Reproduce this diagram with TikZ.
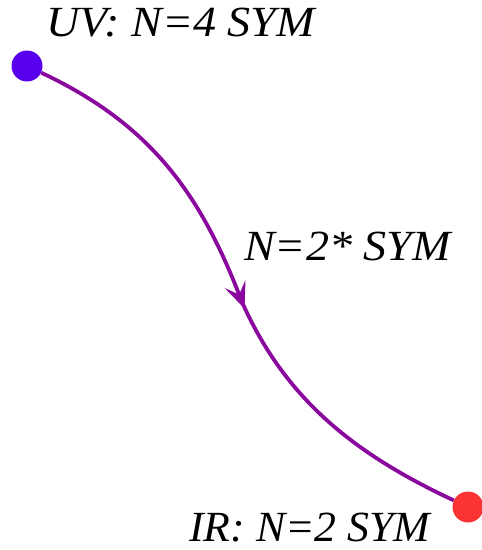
\documentclass[tikz,border=0pt]{standalone}
\usepackage{fontspec}
\setmainfont{Liberation Serif}
\usetikzlibrary{arrows.meta,positioning}

\definecolor{flowpurple}{RGB}{138,8,158}
\definecolor{uvblue}{RGB}{88,0,238}
\definecolor{irred}{RGB}{250,52,52}

\begin{document}
\begin{tikzpicture}[
    x=1pt, y=-1pt,
    fixpt/.style={circle, inner sep=0pt, minimum size=31pt},
    phase/.style={anchor=base west, inner sep=0pt, xscale=1.05, font=\fontsize{43}{50}\selectfont\itshape},
    flow/.style={line width=3.8pt, color=flowpurple}
]
\useasboundingbox (0,0) rectangle (482,550);
\node[fixpt, fill=uvblue] (uv) at (27,66) {};
\node[fixpt, fill=irred] (ir) at (468,507) {};
\coordinate (rg) at (242,302);
\node[phase, xscale=1.02] (uvlabel) at (46,36) {UV: N=4 SYM};
\node[phase, xscale=1.02] (rglabel) at (244,260) {N=2* SYM};
\node[phase, xscale=0.97] (irlabel) at (189,541) {IR: N=2 SYM};
\draw[flow] (rg) .. controls (284,396) and (350,452) .. (ir);
\draw[flow, shorten >=-7pt, -{Stealth[length=26pt, width=22pt, inset=11pt]}] (uv) .. controls (146,122) and (198,188) .. (rg);
\end{tikzpicture}
\end{document}
